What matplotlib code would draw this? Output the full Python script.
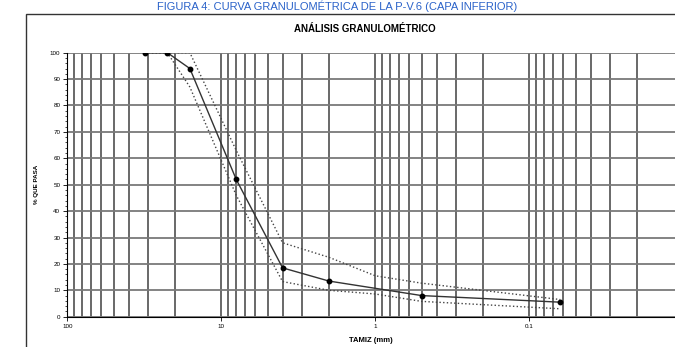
import matplotlib
matplotlib.use("Agg")
import matplotlib.pyplot as plt
from matplotlib.ticker import FixedLocator, NullFormatter, MultipleLocator
import matplotlib.patches as patches

plt.rcParams['font.family'] = ['Liberation Sans', 'DejaVu Sans']

# sieve openings (mm) and % passing
tamiz = [31.5, 22.4, 16, 8, 4, 2, 0.5, 0.063]
pasa = [100, 100, 94, 52, 18.5, 13.5, 8, 5.5]

# specification envelope
tamiz_huso = [31.5, 22.4, 16, 8, 4, 2, 1, 0.5, 0.063]
huso_sup = [100, 100, 100, 63, 28, 22.5, 15.5, 12.7, 6.5]
huso_inf = [100, 100, 87, 46, 13.3, 10, 8.6, 5.8, 3]

x_ticks = [100, 10, 1, 0.1]
x_labels = ['100', '10', '1', '0.1']

fig = plt.figure(figsize=(6.75, 3.47), dpi=100)

# caption above the chart frame
fig.text(0.5, 1 - 6 / 347, 'FIGURA 4: CURVA GRANULOMÉTRICA DE LA P-V.6 (CAPA INFERIOR)',
         ha='center', va='center', color='#2a62c9', fontsize=8)

# outer frame of the chart
fig.patches.append(patches.Rectangle((26 / 675, -0.05), 1.0, (347 - 14) / 347 + 0.05,
                                     transform=fig.transFigure, fill=False,
                                     edgecolor='#333333', linewidth=1.0))

fig.text(365 / 675, 1 - 29 / 347, 'ANÁLISIS GRANULOMÉTRICO', ha='center', va='center',
         fontsize=7, fontweight='bold')

ax = fig.add_axes([67.3 / 675, (347 - 316.7) / 347, 1 - 67.3 / 675, (316.7 - 52.7) / 347])
ax.set_xscale('log')
ax.set_xlim(100, 100 / 10 ** ((675 - 67.3) / 154))
ax.set_ylim(0, 100)

ax.xaxis.set_major_locator(FixedLocator(x_ticks))
ax.set_xticklabels(x_labels)
ax.xaxis.set_minor_formatter(NullFormatter())
ax.yaxis.set_major_locator(MultipleLocator(10))
ax.yaxis.set_minor_locator(MultipleLocator(2))

ax.grid(True, which='both', axis='x', color='#404040', linewidth=1.1)
ax.grid(True, which='major', axis='y', color='#7a7a7a', linewidth=1.3)
ax.set_axisbelow(True)

ax.tick_params(axis='both', which='major', labelsize=4.5, length=3, width=0.6, pad=2)
ax.tick_params(axis='x', which='minor', length=0)
ax.tick_params(axis='y', which='minor', length=1.5, width=0.5)
ax.spines['top'].set_visible(False)
ax.spines['right'].set_visible(False)
ax.spines['left'].set_linewidth(0.8)
ax.spines['bottom'].set_linewidth(0.8)

ax.plot(tamiz_huso, huso_sup, linestyle=':', color='#444444', linewidth=1.0)
ax.plot(tamiz_huso, huso_inf, linestyle=':', color='#444444', linewidth=1.0)
ax.plot(tamiz, pasa, color='#333333', linewidth=1.0, marker='o', markersize=3.2,
        markerfacecolor='black', markeredgecolor='black')

ax.set_xlabel('TAMIZ (mm)', fontsize=5.5, fontweight='bold', labelpad=6)
ax.set_ylabel('% QUE PASA', fontsize=4.5, fontweight='bold', labelpad=8)

fig.savefig('out.png', dpi=100)
